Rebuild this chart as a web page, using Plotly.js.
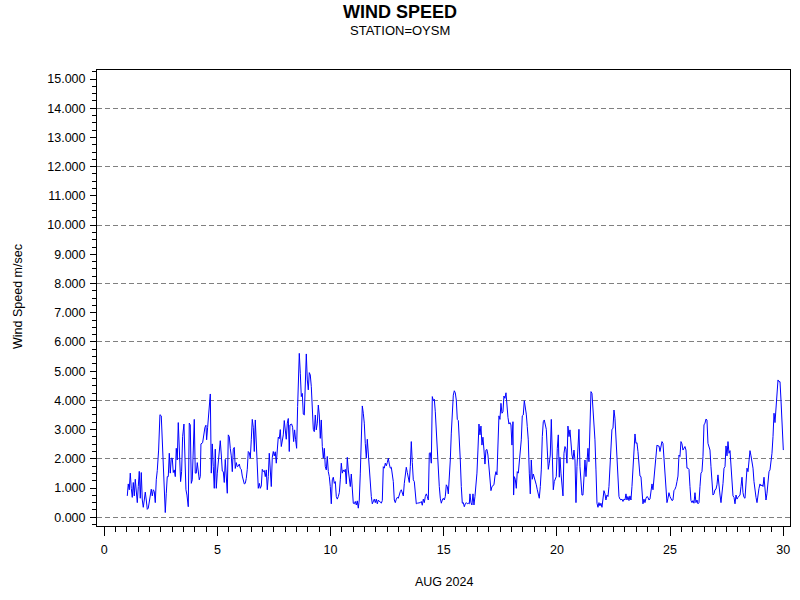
<!DOCTYPE html>
<html>
<head>
<meta charset="utf-8">
<script src="https://cdn.plot.ly/plotly-3.0.1.min.js"></script>
<style>html,body{margin:0;padding:0;background:#fff}#chart{width:800px;height:600px}</style>
</head>
<body>
<div id="chart"></div>
<script>
// Day of month (fractional days, AUG 2024)
const dayOfMonth = [
1.018,1.062,1.106,1.150,1.195,1.239,1.283,1.327,1.371,1.415,1.460,1.504,1.548,1.592,1.636,1.681,1.725,1.769,1.813,1.857,1.901,1.946,1.990,2.034,2.078,2.122,2.167,2.211,2.255,2.299,2.343,2.402,2.461,2.520,2.564,2.608,2.653,2.697,2.741,2.785,2.829,2.874,2.918,2.962,3.006,3.050,3.094,3.139,3.183,3.227,3.271,3.315,3.374,3.419,3.463,3.522,3.566,3.610,3.654,3.713,3.757,3.801,3.846,3.890,3.934,3.978,4.022,4.066,4.111,4.155,4.199,4.243,
4.273,4.347,4.406,4.450,4.494,4.524,4.568,4.627,4.686,4.730,4.774,4.818,4.862,4.906,4.951,4.995,5.039,5.083,5.127,5.172,5.216,5.260,5.304,5.348,5.392,5.437,5.481,5.525,5.569,5.613,5.658,5.702,5.746,5.790,5.834,5.878,5.923,5.967,6.011,6.055,6.099,6.144,6.188,6.232,6.276,6.320,6.364,6.409,6.453,6.497,6.541,6.585,6.630,6.674,6.718,6.762,6.806,6.851,6.895,6.939,6.983,7.027,7.071,7.116,7.160,7.204,7.248,7.292,7.337,7.381,7.425,7.469,7.513,7.557,7.602,7.646,7.690,7.734,7.778,7.823,7.867,7.911,7.955,7.999,8.043,8.088,8.132,8.176,
8.206,8.280,8.324,8.368,8.412,8.456,8.501,8.545,8.589,8.618,8.663,8.707,8.751,8.795,8.839,8.883,8.928,8.972,9.016,9.060,9.104,9.149,9.193,9.237,9.281,9.325,9.369,9.414,9.458,9.502,9.546,9.590,9.635,9.679,9.723,9.767,9.811,9.855,9.900,9.944,9.988,10.032,10.076,10.121,10.165,10.209,10.253,10.297,10.342,10.386,10.430,10.474,10.518,10.562,10.607,10.651,10.695,10.739,10.783,10.828,10.872,10.916,10.960,11.004,11.048,11.093,11.137,11.181,11.225,11.269,11.314,11.358,11.402,11.446,11.490,11.534,11.579,11.623,11.667,11.711,11.755,11.800,11.844,11.888,11.932,11.976,12.020,12.065,12.109,12.153,
12.183,12.242,12.286,12.330,12.374,12.419,12.463,12.507,12.551,12.595,12.640,12.684,12.728,12.772,12.816,12.860,12.905,12.949,12.993,13.037,13.081,13.126,13.170,13.214,13.258,13.302,13.346,13.391,13.435,13.479,13.523,13.567,13.612,13.656,13.700,13.744,13.788,13.832,13.877,13.921,13.965,14.009,14.053,14.098,14.142,14.186,14.230,14.274,14.318,14.363,14.407,14.451,14.495,14.539,14.584,14.628,14.672,14.716,14.760,14.804,14.849,14.893,14.937,14.981,15.025,15.070,15.114,15.158,15.202,15.246,15.291,15.335,15.379,15.423,15.467,15.511,15.556,15.600,15.644,15.688,15.732,15.777,15.821,15.865,15.909,15.953,15.997,16.042,16.086,16.130,
16.159,16.203,16.247,16.292,16.336,16.380,16.424,16.468,16.512,16.557,16.601,16.645,16.689,16.733,16.778,16.822,16.866,16.910,16.954,16.998,17.043,17.087,17.131,17.175,17.219,17.264,17.308,17.352,17.396,17.440,17.484,17.529,17.573,17.617,17.661,17.705,17.750,17.794,17.838,17.882,17.926,17.970,18.015,18.059,18.088,18.118,18.162,18.206,18.250,18.295,18.339,18.383,18.427,18.471,18.515,18.560,18.604,18.648,18.692,18.736,18.781,18.825,18.869,18.913,18.957,19.001,19.046,19.090,19.134,19.178,19.222,19.267,19.311,19.355,19.399,19.443,19.487,19.532,19.576,19.620,19.664,19.708,19.753,19.797,19.841,19.885,19.929,19.973,20.018,20.062,20.106,
20.136,20.180,20.224,20.269,20.313,20.357,20.401,20.445,20.489,20.534,20.578,20.622,20.666,20.710,20.755,20.799,20.843,20.887,20.931,20.975,21.020,21.064,21.108,21.152,21.196,21.241,21.285,21.329,21.373,21.417,21.461,21.506,21.550,21.594,21.638,21.682,21.727,21.771,21.815,21.859,21.903,21.947,21.992,22.036,22.080,22.124,22.168,22.213,22.257,22.301,22.345,22.389,22.433,22.478,22.522,22.566,22.610,22.654,22.699,22.743,22.787,22.831,22.875,22.920,22.964,23.008,23.052,23.096,23.140,23.185,23.229,23.273,23.317,23.361,23.406,23.450,23.494,23.538,23.582,23.626,23.671,23.715,23.759,23.803,23.847,23.892,23.936,23.980,24.024,24.068,
24.113,24.157,24.201,24.246,24.290,24.334,24.378,24.422,24.466,24.511,24.555,24.599,24.643,24.687,24.732,24.776,24.820,24.864,24.908,24.952,24.997,25.041,25.085,25.129,25.173,25.218,25.262,25.306,25.350,25.394,25.438,25.483,25.527,25.571,25.615,25.659,25.704,25.748,25.792,25.836,25.880,25.924,25.969,26.013,26.057,26.101,26.145,26.190,26.234,26.278,26.322,26.366,26.410,26.455,26.499,26.543,26.587,26.631,26.676,26.720,26.764,26.808,26.852,26.896,26.941,26.985,27.029,27.073,27.117,27.162,
27.207,27.251,27.295,27.340,27.384,27.428,27.472,27.516,27.560,27.605,27.649,27.693,27.737,27.781,27.826,27.870,27.914,27.958,28.002,28.046,28.091,28.135,28.179,28.223,28.267,28.312,28.356,28.400,28.444,28.488,28.532,28.577,28.621,28.665,28.709,28.753,28.798,28.842,28.886,28.930,28.974,29.018,29.063,29.107,29.151,29.195,29.239,29.284,29.328,29.372,29.416,29.460,29.504,29.549,29.593,29.637,29.681,29.725,29.770,29.814,29.858,29.902,29.946,29.990,30.005
];
// Wind speed, m/sec
const windSpeed = [
0.73,1.14,0.94,1.51,0.99,0.68,1.19,0.73,1.30,0.82,0.50,1.05,1.57,0.65,1.53,0.59,0.34,0.59,0.86,0.59,0.27,0.31,0.59,0.82,0.96,0.73,0.94,0.88,0.50,1.28,1.60,2.30,3.51,3.47,2.53,2.19,1.16,0.16,0.82,1.39,1.39,2.19,1.51,2.02,2.02,1.53,1.62,1.39,2.36,1.96,3.24,2.08,1.22,1.56,2.76,3.19,1.39,0.94,0.76,0.36,3.22,3.16,1.16,1.28,2.30,3.35,1.51,1.51,1.87,1.62,1.28,1.39,
2.51,2.55,2.99,3.08,3.15,2.65,3.08,3.61,4.22,1.51,2.51,1.73,0.99,2.33,0.99,1.51,1.85,2.13,2.62,2.13,1.58,1.56,1.19,1.98,1.39,0.82,2.82,2.76,2.36,2.10,1.56,2.33,2.39,1.67,1.87,1.73,1.75,1.82,1.67,1.64,1.41,1.25,1.14,1.16,1.33,1.64,2.25,2.21,2.02,2.65,3.35,3.08,2.25,3.33,2.65,1.68,0.99,1.16,0.99,1.07,1.64,1.56,1.60,1.39,1.62,0.94,1.39,2.19,1.62,1.05,2.05,2.25,2.10,2.24,1.85,2.36,2.74,2.69,3.00,2.42,2.69,2.82,3.31,2.99,2.67,3.22,3.38,2.25,
3.16,3.19,3.08,2.59,2.99,2.65,2.36,3.79,4.93,5.61,4.93,4.13,4.24,3.53,3.50,4.81,5.59,4.70,4.36,4.95,4.87,4.47,3.79,3.01,2.93,3.50,2.99,3.22,3.84,3.50,2.70,3.33,2.42,2.02,2.36,1.73,1.62,2.08,1.56,1.39,1.05,0.46,1.28,1.37,1.16,1.22,0.71,0.62,0.71,0.84,1.28,1.85,1.51,1.62,1.56,1.64,1.14,2.05,1.62,1.41,1.05,1.48,0.82,0.48,0.46,0.54,0.42,0.56,0.31,0.59,1.51,2.99,3.81,3.56,3.22,2.53,2.02,2.67,2.19,1.51,1.16,0.71,0.46,0.54,0.62,0.50,0.62,0.46,0.59,0.54,
0.54,0.48,0.57,1.73,1.68,1.85,1.76,1.87,2.02,1.82,1.68,1.71,1.51,1.22,0.59,0.50,0.62,0.68,0.65,0.80,0.88,0.94,0.80,0.73,1.16,1.51,1.71,1.53,1.39,1.19,1.73,2.59,1.87,1.28,1.22,0.94,0.46,0.48,0.48,0.48,0.50,0.54,0.41,0.62,0.50,0.71,0.80,0.71,0.59,2.19,2.21,1.85,4.13,3.99,4.04,3.61,2.88,2.08,1.62,1.05,0.65,0.48,0.59,0.65,0.59,0.71,1.11,1.05,0.80,1.28,1.96,2.88,3.79,4.18,4.33,4.26,4.01,3.35,3.31,2.76,1.96,1.05,0.48,0.50,0.36,0.46,0.50,0.46,0.48,0.46,
0.80,0.50,0.42,0.80,0.42,0.71,1.05,1.51,2.30,3.19,2.82,3.12,2.47,2.74,2.30,1.82,2.30,2.32,2.13,1.68,1.39,0.91,1.05,1.07,1.11,1.41,1.56,1.45,2.70,3.47,3.35,3.90,3.56,3.61,4.15,4.07,4.26,3.67,3.42,3.19,3.24,3.16,2.47,3.27,0.76,1.39,1.30,0.99,1.56,1.51,1.96,2.30,2.65,3.47,3.50,3.99,3.79,3.53,3.10,2.65,1.51,0.80,1.96,1.30,1.48,1.37,1.22,1.11,0.94,0.71,0.65,1.05,1.62,2.76,3.27,3.33,3.08,3.01,2.30,1.64,1.85,2.13,3.35,2.02,0.94,1.22,1.28,1.39,2.36,2.82,1.37,
2.05,1.51,1.05,0.73,2.19,2.42,2.33,1.85,3.12,2.76,2.99,2.53,2.13,1.98,2.30,1.96,0.50,1.73,2.65,3.01,1.73,1.05,0.76,0.76,1.30,1.96,1.39,2.08,2.36,1.90,3.44,4.30,4.24,3.67,3.39,2.65,1.62,0.48,0.34,0.50,0.39,0.48,0.34,0.71,0.91,0.80,0.59,0.76,0.71,1.05,1.73,2.76,3.01,3.04,3.67,3.39,2.76,2.08,1.51,0.71,0.62,0.59,0.62,0.54,0.62,0.59,0.80,0.59,0.71,0.57,0.73,0.59,1.05,1.73,2.36,2.85,2.53,2.55,2.25,1.85,1.41,1.39,0.94,0.46,0.62,0.50,0.65,0.71,0.68,0.59,
0.62,0.88,1.14,0.94,1.28,1.73,2.19,2.47,2.44,2.44,2.25,2.51,2.59,2.53,1.96,1.28,0.71,0.50,0.65,0.84,0.71,0.62,0.57,0.59,0.91,0.96,1.05,1.22,1.41,2.13,2.08,2.59,2.51,2.30,2.36,2.42,2.30,1.68,1.68,1.64,1.05,0.57,0.50,0.57,0.48,0.84,0.50,0.59,0.46,0.50,1.05,1.51,1.56,2.08,3.16,3.22,3.36,3.33,2.53,2.44,2.30,1.73,1.11,0.76,0.80,0.94,0.96,1.11,1.45,0.94,
0.76,0.50,0.76,1.16,1.68,1.73,2.44,2.10,2.59,2.19,2.28,1.85,1.45,0.73,0.68,0.46,0.76,0.62,0.68,0.71,0.76,1.05,1.37,0.84,0.68,0.65,1.28,1.68,1.56,2.08,2.28,2.10,1.85,1.68,1.22,0.82,0.68,0.50,0.82,0.99,1.14,1.07,1.11,1.05,1.37,1.05,0.59,0.82,1.39,1.56,1.62,1.85,2.19,2.76,3.56,3.24,3.79,4.36,4.70,4.64,4.64,4.01,3.33,2.76,2.30
];
const chartTitle = 'WIND SPEED';
const subTitle = 'STATION=OYSM';
const xTitle = 'AUG 2024';
const yTitle = 'Wind Speed m/sec';

const FONT = 'Liberation Sans, Arial, Helvetica, sans-serif';
const yRange = [-0.3, 15.31];

const traces = [
  {x: dayOfMonth, y: windSpeed, type: 'scatter', mode: 'lines',
   line: {color: '#0000ff', width: 1}, xaxis: 'x', yaxis: 'y',
   showlegend: false, hoverinfo: 'x+y'},
  {x: [dayOfMonth[0]], y: [windSpeed[0]], type: 'scatter', mode: 'markers',
   marker: {opacity: 0}, xaxis: 'x', yaxis: 'y2', showlegend: false, hoverinfo: 'skip'}
];

const layout = {
  width: 800, height: 600,
  margin: {l: 97, r: 10, t: 70, b: 74, pad: 0},
  paper_bgcolor: '#ffffff', plot_bgcolor: '#ffffff',
  font: {family: FONT, color: '#000'},
  showlegend: false,
  xaxis: {
    range: [-0.32, 30.3], tickmode: 'linear', tick0: 0, dtick: 5,
    ticks: 'outside', ticklen: 9, tickwidth: 1, tickcolor: '#000',
    showline: true, linecolor: '#000', linewidth: 1, mirror: true,
    showgrid: false, zeroline: false, ticklabelstandoff: 3,
    tickfont: {family: FONT, size: 12.5, color: '#000'},
    minor: {tickmode: 'linear', tick0: 0, dtick: 0.5, ticks: 'outside', ticklen: 5, tickcolor: '#000', showgrid: false}
  },
  yaxis: {
    range: yRange, tickmode: 'linear', tick0: 0, dtick: 2,
    showgrid: true, gridcolor: '#808080', gridwidth: 1, griddash: '5px,3px',
    showticklabels: false, ticks: '', showline: false, zeroline: false
  },
  yaxis2: {
    overlaying: 'y', side: 'left', anchor: 'x',
    range: yRange, tickmode: 'linear', tick0: 0, dtick: 1, tickformat: '.3f',
    ticks: 'outside', ticklen: 6, tickwidth: 1, tickcolor: '#000',
    showline: true, linecolor: '#000', linewidth: 1, mirror: true,
    showgrid: false, zeroline: false, ticklabelstandoff: 2,
    tickfont: {family: FONT, size: 12.5, color: '#000'},
    minor: {tickmode: 'linear', tick0: 0, dtick: 0.25, ticks: 'outside', ticklen: 4, tickcolor: '#000', showgrid: false}
  },
  annotations: [
    {text: '<b>' + chartTitle + '</b>', xref: 'paper', yref: 'paper', x: 0.4372, y: 1.128,
     xanchor: 'center', yanchor: 'middle', showarrow: false, font: {family: FONT, size: 18, color: '#000'}},
    {text: subTitle, xref: 'paper', yref: 'paper', x: 0.4372, y: 1.0866,
     xanchor: 'center', yanchor: 'middle', showarrow: false, font: {family: FONT, size: 13, color: '#000'}},
    {text: xTitle, xref: 'paper', yref: 'paper', x: 0.5, y: -0.1226,
     xanchor: 'center', yanchor: 'middle', showarrow: false, font: {family: FONT, size: 12.5, color: '#000'}},
    {text: yTitle, xref: 'paper', yref: 'paper', x: -0.114, y: 0.5044, textangle: -90,
     xanchor: 'center', yanchor: 'middle', showarrow: false, font: {family: FONT, size: 12.5, color: '#000'}}
  ]
};

Plotly.newPlot('chart', traces, layout, {displayModeBar: false, staticPlot: true});
</script>
</body>
</html>
